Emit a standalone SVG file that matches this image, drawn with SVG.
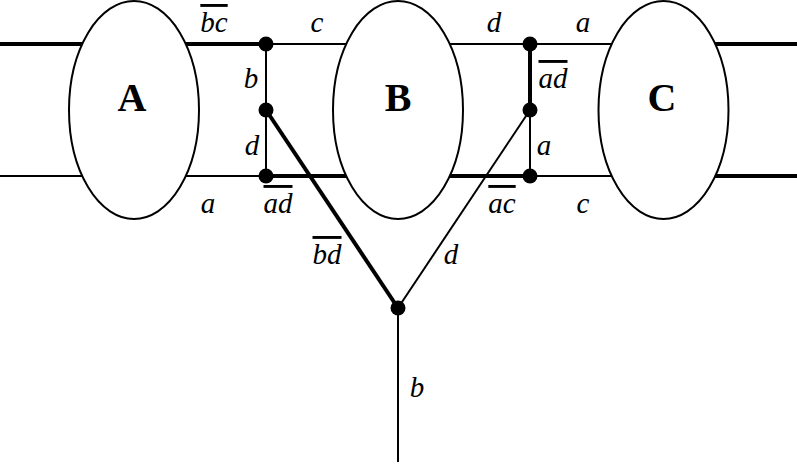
<svg xmlns="http://www.w3.org/2000/svg" width="797" height="465" viewBox="0 0 797 465">
<style>
.thin{stroke:#000;stroke-width:2;fill:none;stroke-linecap:butt}
.thick{stroke:#000;stroke-width:4;fill:none;stroke-linecap:butt}
.ell{fill:#fff;stroke:#000;stroke-width:2}
.dot{fill:#000}
.lbl{font-family:"Liberation Serif","Times New Roman",serif;font-style:italic;font-size:29px;text-anchor:middle;fill:#000}
.ov{text-decoration:overline;text-decoration-thickness:1.5px}
.big{font-family:"Liberation Serif","Times New Roman",serif;font-weight:bold;font-size:40px;text-anchor:middle;fill:#000}
</style>
<rect width="797" height="465" fill="#fff"/>
<g id="connectors">
<line class="thick" x1="0" y1="44" x2="266" y2="44"/>
<line class="thin" x1="266" y1="44" x2="663" y2="44"/>
<line class="thick" x1="663" y1="44" x2="797" y2="44"/>
<line class="thin" x1="0" y1="176" x2="266" y2="176"/>
<line class="thick" x1="266" y1="176" x2="530" y2="176"/>
<line class="thin" x1="530" y1="176" x2="663" y2="176"/>
<line class="thick" x1="663" y1="176" x2="797" y2="176"/>
<line class="thin" x1="266" y1="44" x2="266" y2="176"/>
<line class="thick" x1="530" y1="44" x2="530" y2="110"/>
<line class="thin" x1="530" y1="110" x2="530" y2="176"/>
<line class="thick" x1="266" y1="110" x2="398" y2="308"/>
<line class="thin" x1="530" y1="110" x2="398" y2="308"/>
<line class="thin" x1="398" y1="308" x2="398" y2="462"/>
</g>
<g id="nodeA"><ellipse class="ell" cx="134" cy="110" rx="65" ry="109"/><text class="big" x="132" y="111">A</text></g>
<g id="nodeB"><ellipse class="ell" cx="398" cy="110" rx="65" ry="109"/><text class="big" x="398" y="111">B</text></g>
<g id="nodeC"><ellipse class="ell" cx="663.5" cy="110" rx="65" ry="109"/><text class="big" x="662" y="111">C</text></g>
<g id="junctions">
<circle class="dot" cx="266" cy="44" r="7.5"/>
<circle class="dot" cx="266" cy="110" r="7.5"/>
<circle class="dot" cx="266" cy="176" r="7.5"/>
<circle class="dot" cx="530" cy="44" r="7.5"/>
<circle class="dot" cx="530" cy="110" r="7.5"/>
<circle class="dot" cx="530" cy="176" r="7.5"/>
<circle class="dot" cx="398" cy="308" r="7.5"/>
</g>
<g id="labels">
<text class="lbl ov" x="214" y="32">bc</text>
<text class="lbl" x="317" y="32">c</text>
<text class="lbl" x="494" y="32">d</text>
<text class="lbl" x="583" y="32">a</text>
<text class="lbl" x="251" y="88">b</text>
<text class="lbl ov" x="553" y="88">ad</text>
<text class="lbl" x="252" y="155">d</text>
<text class="lbl" x="544" y="155">a</text>
<text class="lbl" x="208" y="213">a</text>
<text class="lbl ov" x="278" y="213">ad</text>
<text class="lbl ov" x="502" y="213">ac</text>
<text class="lbl" x="583" y="213">c</text>
<text class="lbl ov" x="327" y="264">bd</text>
<text class="lbl" x="451" y="264">d</text>
<text class="lbl" x="417" y="397">b</text>
</g>
</svg>
